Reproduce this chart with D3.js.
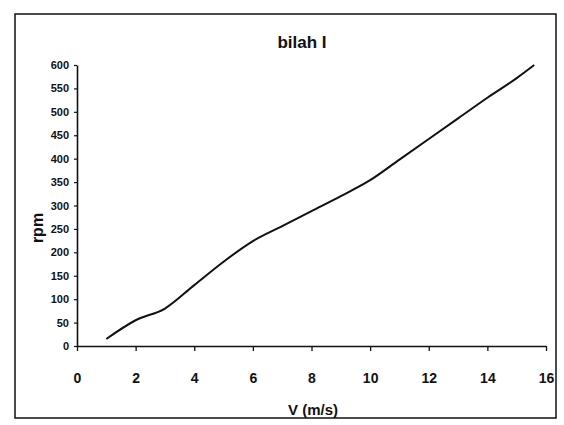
<!DOCTYPE html>
<html>
<head>
<meta charset="utf-8">
<script src="https://cdn.jsdelivr.net/npm/d3@7"></script>
<style>
  body { margin: 0; background: #fff; }
  text { font-family: "Liberation Sans Narrow", "Arial Narrow", "Liberation Sans", Arial, sans-serif; }
</style>
</head>
<body>
<div id="chart"></div>
<script>
// Data
const speed = [1, 2, 3, 4, 5, 6, 7, 8, 9, 10, 11, 12, 13, 14, 15, 15.6];
const rpm = [15, 55, 80, 130, 180, 224, 256, 288, 320, 354, 398, 442, 486, 530, 572, 600];
const xTicks = [0, 2, 4, 6, 8, 10, 12, 14, 16];
const yTicks = [0, 50, 100, 150, 200, 250, 300, 350, 400, 450, 500, 550, 600];

const points = speed.map((v, i) => ({v: v, r: rpm[i]}));

// Dimensions
const width = 564, height = 425;
const margin = {top: 65, right: 14, bottom: 78, left: 77};
const innerW = width - margin.left - margin.right,
      innerH = height - margin.top - margin.bottom;

const svg = d3.select("#chart")
    .append("svg")
    .attr("width", width)
    .attr("height", height);

// Outer frame
svg.append("rect")
    .attr("x", 15)
    .attr("y", 14)
    .attr("width", 541)
    .attr("height", 404)
    .attr("fill", "none")
    .attr("stroke", "#111")
    .attr("stroke-width", 1.5);

const g = svg.append("g")
    .attr("transform", `translate(${margin.left},${margin.top})`);

// Scales
const x = d3.scaleLinear().domain([0, 16]).range([0, innerW - 4]);
const y = d3.scaleLinear().domain([0, 600]).range([innerH - 1, 0]);

// X axis
const xAxis = g.append("g")
    .attr("transform", `translate(0,${innerH - 1})`)
    .call(d3.axisBottom(x).tickValues(xTicks).tickSize(5).tickSizeOuter(0).tickPadding(22));
xAxis.select(".domain").attr("stroke", "#111").attr("stroke-width", 1.6);
xAxis.selectAll(".tick line").attr("stroke", "#111").attr("stroke-width", 1.3);
xAxis.selectAll("text")
    .attr("fill", "#111")
    .style("font-size", "14px")
    .style("font-weight", "bold");

// Y axis
const yAxis = g.append("g")
    .call(d3.axisLeft(y).tickValues(yTicks).tickSize(3).tickSizeOuter(0).tickPadding(5));
yAxis.select(".domain").attr("stroke", "#111").attr("stroke-width", 1.6);
yAxis.selectAll(".tick line").attr("stroke", "#111").attr("stroke-width", 1.2);
yAxis.selectAll("text")
    .attr("fill", "#111")
    .style("font-size", "11px")
    .style("font-weight", "bold");

// Line
const line = d3.line()
    .x(d => x(d.v))
    .y(d => y(d.r))
    .curve(d3.curveMonotoneX);

g.append("path")
    .datum(points)
    .attr("fill", "none")
    .attr("stroke", "#111")
    .attr("stroke-width", 2)
    .attr("d", line);

// Title
svg.append("text")
    .attr("x", 302)
    .attr("y", 48)
    .attr("text-anchor", "middle")
    .style("font-size", "17px")
    .style("font-weight", "bold")
    .attr("fill", "#111")
    .text("bilah I");

// X axis label
svg.append("text")
    .attr("x", 313)
    .attr("y", 415)
    .attr("text-anchor", "middle")
    .style("font-size", "15px")
    .style("font-weight", "bold")
    .attr("fill", "#111")
    .text("V (m/s)");

// Y axis label
svg.append("text")
    .attr("transform", "rotate(-90)")
    .attr("x", -228)
    .attr("y", 43)
    .attr("text-anchor", "middle")
    .style("font-size", "16px")
    .style("font-weight", "bold")
    .attr("fill", "#111")
    .text("rpm");
</script>
</body>
</html>
